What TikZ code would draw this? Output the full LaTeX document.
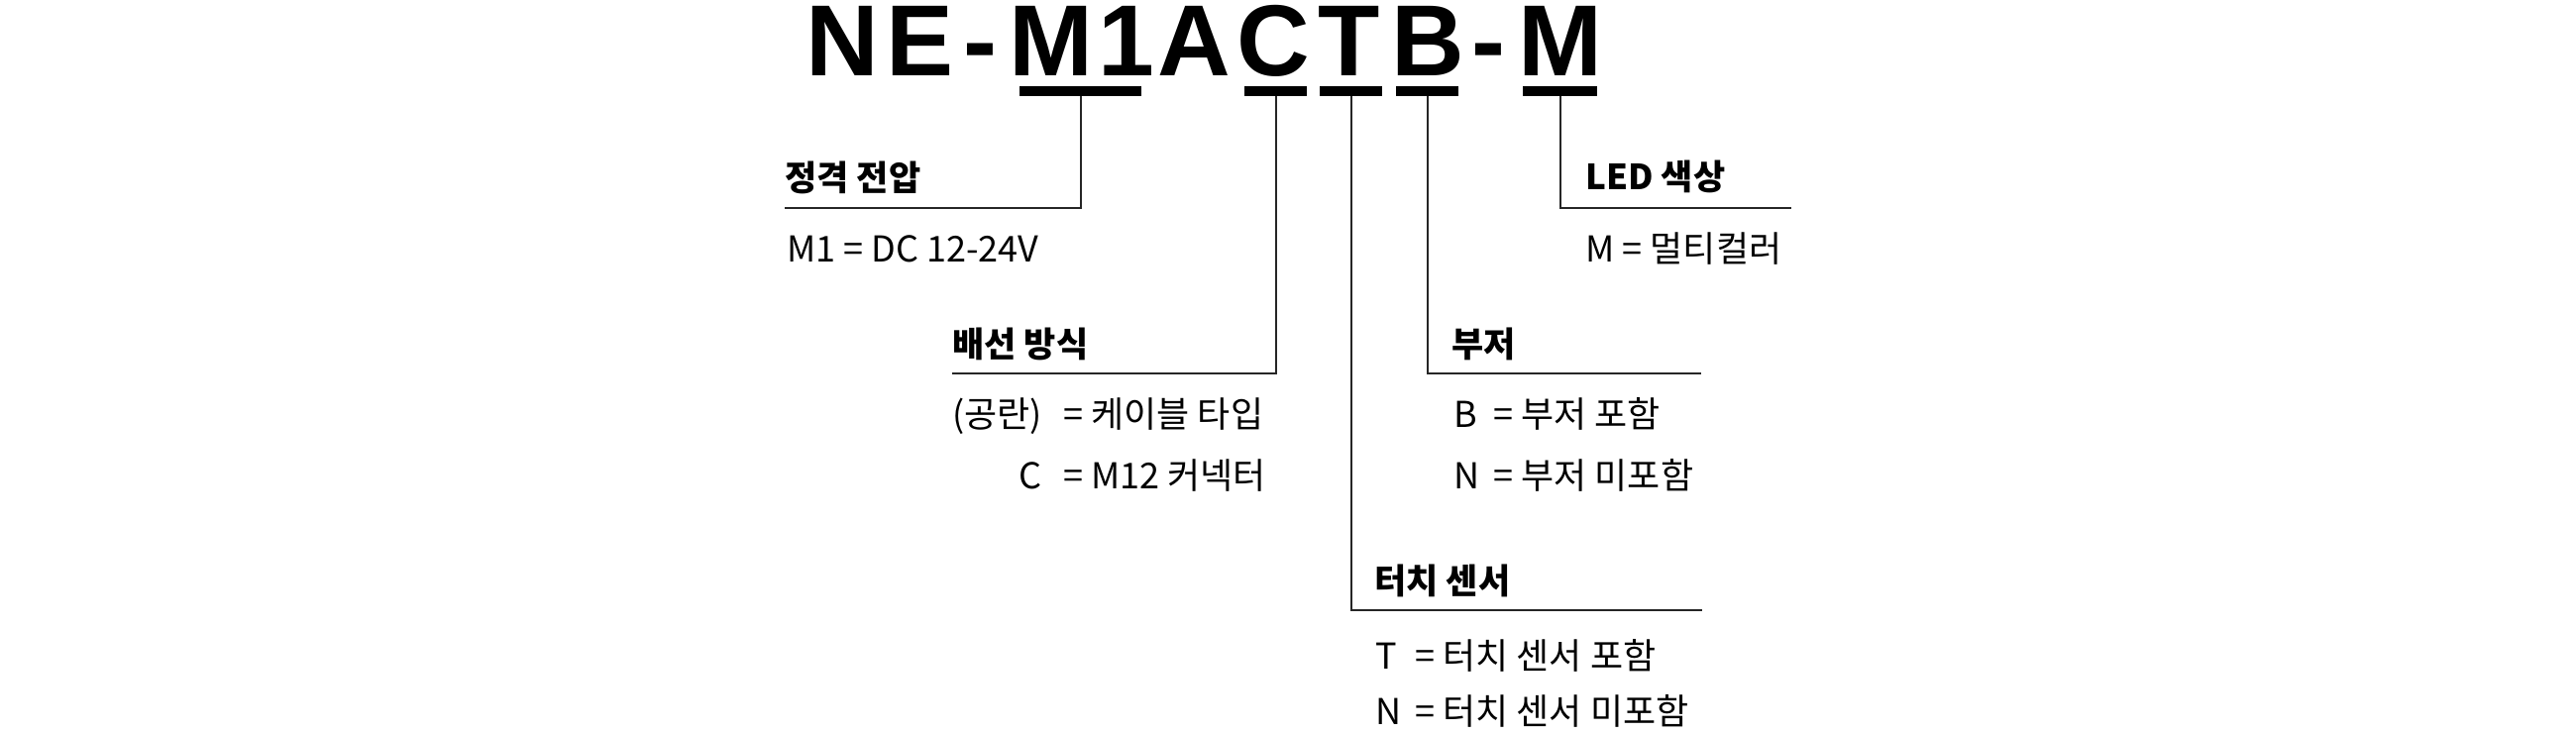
\documentclass[tikz,border=0pt]{standalone}
\usepackage{fontspec}
\setmainfont{Liberation Sans}
\newfontfamily\kr{Noto Sans CJK KR}
\tikzset{
  ttl/.style={font=\fontsize{51}{51}\selectfont\bfseries, inner sep=0pt, anchor=base},
  bar/.style={fill=black, inner sep=0pt, minimum height=5pt},
  head/.style={font=\kr\bfseries\fontsize{17.5}{20}\selectfont, inner sep=0pt, anchor=base west},
  val/.style={font=\kr\fontsize{18}{20}\selectfont, inner sep=0pt, anchor=base west},
  conn/.style={line width=1pt, draw=black!85},
}
\begin{document}
\begin{tikzpicture}[x=0.5pt,y=-0.5pt]
\useasboundingbox (0,0) rectangle (2600,740);
% title letters
\node[ttl] (t1) at (850,76) {N};
\node[ttl] (t2) at (928.5,76) {E};
\node[ttl] (t3) at (989,76) {-};
\node[ttl] (t4) at (1061,76) {M};
\node[ttl] (t5) at (1137,76) {1};
\node[ttl] (t6) at (1205,76) {A};
\node[ttl] (t7) at (1285,76) {C};
\node[ttl] (t8) at (1362,76) {T};
\node[ttl] (t9) at (1441,76) {B};
\node[ttl] (t10) at (1502,76) {-};
\node[ttl] (t11) at (1575,76) {M};
% underline bars
\node[bar, minimum width=61.5pt] (bM1) at (1090.5,92) {};
\node[bar, minimum width=31.5pt] (bC) at (1287.5,92) {};
\node[bar, minimum width=31.5pt] (bT) at (1363.5,92) {};
\node[bar, minimum width=31.5pt] (bB) at (1440.5,92) {};
\node[bar, minimum width=37.5pt] (bM) at (1574.5,92) {};
% line ends
\coordinate (e1) at (792,210);
\coordinate (e5) at (1808,210);
\coordinate (e2) at (961,377);
\coordinate (e4) at (1717,377);
\coordinate (e3) at (1718,616);
\draw[conn] (bM1.south) |- (e1);
\draw[conn] (bM.south) |- (e5);
\draw[conn] (bC.south) |- (e2);
\draw[conn] (bB.south) |- (e4);
\draw[conn] (bT.south) |- (e3);
% texts
\node[head] (h1) at (792,192) {정격 전압};
\node[val] (v1) at (794,264) {M1 = DC 12-24V};
\node[head] (h5) at (1600,191) {LED 색상};
\node[val] (v5) at (1600,264) {M = 멀티컬러};
\node[head] (h2) at (961,360) {배선 방식};
\node[val, anchor=base east] (k2a) at (1052,431) {(공란)};
\node[val] (v2a) at (1073,431) {= 케이블 타입};
\node[val, anchor=base east] (k2b) at (1052,493) {C};
\node[val] (v2b) at (1073,493) {= M12 커넥터};
\node[head] (h4) at (1465,360) {부저};
\node[val] (k4a) at (1467,431) {B};
\node[val] (v4a) at (1507,431) {= 부저 포함};
\node[val] (k4b) at (1467,493) {N};
\node[val] (v4b) at (1507,493) {= 부저 미포함};
\node[head] (h3) at (1387,599) {터치 센서};
\node[val] (k3a) at (1388,675) {T};
\node[val] (v3a) at (1428,675) {= 터치 센서 포함};
\node[val] (k3b) at (1388,731) {N};
\node[val] (v3b) at (1428,731) {= 터치 센서 미포함};
\end{tikzpicture}
\end{document}
